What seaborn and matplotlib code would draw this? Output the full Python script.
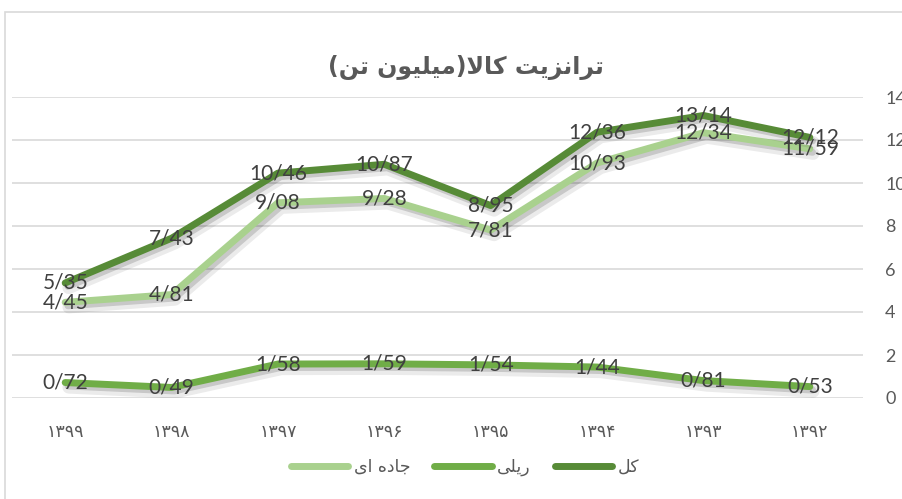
import matplotlib
matplotlib.use("Agg")
import matplotlib.pyplot as plt
import matplotlib.patheffects as pe
import pandas as pd
import seaborn as sns
from matplotlib.lines import Line2D
from matplotlib.patches import Rectangle

# Data (decimal separator shown as "/")
years = ["۱۳۹۹", "۱۳۹۸", "۱۳۹۷", "۱۳۹۶", "۱۳۹۵", "۱۳۹۴", "۱۳۹۳", "۱۳۹۲"]
total = [5.35, 7.43, 10.46, 10.87, 8.95, 12.36, 13.14, 12.12]
rail = [0.72, 0.49, 1.58, 1.59, 1.54, 1.44, 0.81, 0.53]
road = [4.45, 4.81, 9.08, 9.28, 7.81, 10.93, 12.34, 11.59]
series_names = ["کل", "ریلی", "جاده ای"]
title = "ترانزیت کالا(میلیون تن)"

colors = {"کل": "#578b37", "ریلی": "#70ad47", "جاده ای": "#a9d18e"}

# Minimal Persian shaping: (isolated, final, initial, medial)
FORMS = {
    "ا": ("\uFE8D", "\uFE8E", None, None),
    "ت": ("\uFE95", "\uFE96", "\uFE97", "\uFE98"),
    "ر": ("\uFEAD", "\uFEAE", None, None),
    "ز": ("\uFEAF", "\uFEB0", None, None),
    "ن": ("\uFEE5", "\uFEE6", "\uFEE7", "\uFEE8"),
    "ی": ("\uFBFC", "\uFBFD", "\uFBFE", "\uFBFF"),
    "ک": ("\uFB8E", "\uFB8F", "\uFB90", "\uFB91"),
    "ل": ("\uFEDD", "\uFEDE", "\uFEDF", "\uFEE0"),
    "م": ("\uFEE1", "\uFEE2", "\uFEE3", "\uFEE4"),
    "و": ("\uFEED", "\uFEEE", None, None),
    "ج": ("\uFE9D", "\uFE9E", "\uFE9F", "\uFEA0"),
    "د": ("\uFEA9", "\uFEAA", None, None),
    "ه": ("\uFEE9", "\uFEEA", "\uFEEB", "\uFEEC"),
}
MIRROR = {"(": ")", ")": "("}


def joins_next(c):
    return c in FORMS and FORMS[c][2] is not None


def shape(text):
    res = []
    i = 0
    n = len(text)
    while i < n:
        c = text[i]
        link_prev = i > 0 and joins_next(text[i - 1])
        if c == "ل" and i + 1 < n and text[i + 1] == "ا":
            res.append("\uFEFC" if link_prev else "\uFEFB")
            i += 2
            continue
        if c not in FORMS:
            res.append(MIRROR.get(c, c))
            i += 1
            continue
        link_next = joins_next(c) and i + 1 < n and text[i + 1] in FORMS
        iso, fin, ini, med = FORMS[c]
        if link_prev and link_next:
            res.append(med)
        elif link_prev:
            res.append(fin)
        elif link_next:
            res.append(ini)
        else:
            res.append(iso)
        i += 1
    return "".join(reversed(res))


df = pd.DataFrame({
    "year": years * 3,
    "value": total + rail + road,
    "series": [series_names[0]] * 8 + [series_names[1]] * 8 + [series_names[2]] * 8,
})

sns.set_style("white")
plt.rcParams["font.family"] = ["DejaVu Sans"]

fig = plt.figure(figsize=(9.02, 4.99), dpi=100)
ax = fig.add_axes([12 / 902, 1 - 398 / 499, (863 - 12) / 902, (398 - 97) / 499])

sns.lineplot(data=df, x="year", y="value", hue="series", palette=colors,
             hue_order=["جاده ای", "ریلی", "کل"], sort=False, lw=5,
             legend=False, ax=ax)

for line in ax.lines:
    line.set_solid_capstyle("round")
    line.set_solid_joinstyle("round")
    line.set_path_effects([
        pe.SimpleLineShadow(offset=(2.5, -3.5), shadow_color="black", alpha=0.08, linewidth=9),
        pe.SimpleLineShadow(offset=(2, -2.5), shadow_color="black", alpha=0.15),
        pe.Normal(),
    ])

# Data labels
for vals in [total, road, rail]:
    for i, v in enumerate(vals):
        ax.text(i, v, f"{v:.2f}".replace(".", "/"), ha="center", va="center",
                fontsize=15, color="#404040", family=["Lato", "DejaVu Sans"])

ax.set_xlim(-0.5, 7.5)
ax.set_ylim(0, 14)
ax.set_yticks(range(0, 15, 2))
ax.yaxis.tick_right()
ax.grid(axis="y", color="#d9d9d9", lw=1.2)
ax.set_axisbelow(True)
for s in ax.spines.values():
    s.set_visible(False)
ax.set_xlabel("")
ax.set_ylabel("")
ax.tick_params(axis="y", length=0, pad=16, labelsize=13, labelcolor="#595959")
ax.tick_params(axis="x", length=0, pad=18, labelsize=12.5, labelcolor="#595959")
for t in ax.get_yticklabels():
    t.set_family(["Lato", "DejaVu Sans"])

# Legend
handles = [Line2D([0], [0], color=colors[n], lw=5, solid_capstyle="round")
           for n in ["جاده ای", "ریلی", "کل"]]
labels = [shape(n) for n in ["جاده ای", "ریلی", "کل"]]
fig.legend(handles, labels, loc="center", bbox_to_anchor=(465 / 902, 1 - 467 / 499),
           ncol=3, frameon=False, fontsize=12.5, handlelength=3.3,
           columnspacing=1.4, handletextpad=0.3, labelcolor="#595959")

fig.text(466 / 902, 1 - 68 / 499, shape(title), ha="center", va="center",
         fontsize=17, fontweight="bold", color="#595959")

fig.add_artist(Rectangle((5 / 902, -0.05), 1.0, 1 - 12 / 499 + 0.05,
                         transform=fig.transFigure, fill=False,
                         ec="#d9d9d9", lw=1.2))

fig.savefig("out.png", dpi=100)
